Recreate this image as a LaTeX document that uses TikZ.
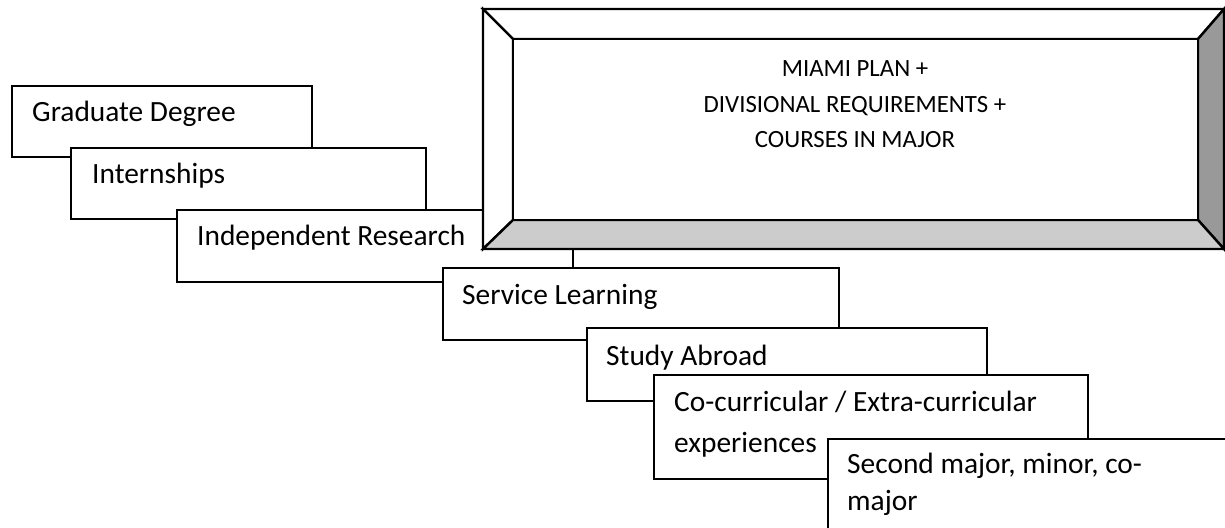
\documentclass[tikz,border=0pt]{standalone}
\usepackage{fontspec}
\setmainfont{Carlito}
\usetikzlibrary{fit}
\definecolor{bevlight}{HTML}{CCCCCC}
\definecolor{bevdark}{HTML}{999999}
\tikzset{
  box/.style={draw=black, fill=white, line width=1.2pt, inner sep=0pt},
  lbl/.style={inner sep=0pt, anchor=base west, font=\fontsize{14.7}{20.5}\selectfont},
  mlbl/.style={inner sep=0pt, anchor=base, font=\fontsize{12.4}{17.75}\selectfont},
  bev/.style={draw=black, line width=1.2pt, line join=miter},
}
\begin{document}
\begin{tikzpicture}[x=0.5pt,y=-0.5pt]
\useasboundingbox (0,0) rectangle (1225,527);
% Graduate Degree
\node[box, fit={(12,86) (312,157)}] (grad) {};
\node[lbl] (gradt) at ([shift={(21,37)}]grad.north west) {Graduate Degree};
% Internships
\node[box, fit={(71,148) (426,219)}] (intern) {};
\node[lbl] (internt) at ([shift={(22,37)}]intern.north west) {Internships};
% Independent Research
\node[box, fit={(177,210) (573,282)}] (indep) {};
\node[lbl] (indept) at ([shift={(21,37)}]indep.north west) {Independent Research};
% Main bevelled box
\coordinate (o1) at (483,9);
\coordinate (o2) at (1224,9);
\coordinate (o3) at (1224,249);
\coordinate (o4) at (483,249);
\coordinate (i1) at (513,39);
\coordinate (i2) at (1198,39);
\coordinate (i3) at (1198,220);
\coordinate (i4) at (513,220);
\fill[white] (o1) -- (o2) -- (o3) -- (o4) -- cycle;
\filldraw[bev, fill=white] (o1) -- (o2) -- (i2) -- (i1) -- cycle;
\filldraw[bev, fill=white] (o1) -- (i1) -- (i4) -- (o4) -- cycle;
\filldraw[bev, fill=bevdark] (o2) -- (o3) -- (i3) -- (i2) -- cycle;
\filldraw[bev, fill=bevlight] (o4) -- (i4) -- (i3) -- (o3) -- cycle;
\node[box, fit={(i1) (i3)}] (core) {};
\node[mlbl] (m1) at (855,76) {MIAMI PLAN +};
\node[mlbl] (m2) at (855,112) {DIVISIONAL REQUIREMENTS +};
\node[mlbl] (m3) at (855,147) {COURSES IN MAJOR};
% Service Learning
\node[box, fit={(443,268) (839,340)}] (serv) {};
\node[lbl] (servt) at ([shift={(20,38)}]serv.north west) {Service Learning};
% Study Abroad
\node[box, fit={(587,328) (987,401)}] (study) {};
\node[lbl] (studyt) at ([shift={(20,39)}]study.north west) {Study Abroad};
% Co-curricular
\node[box, fit={(654,375) (1088,479)}] (cocur) {};
\node[lbl] (cocurt1) at ([shift={(21,38)}]cocur.north west) {Co-curricular / Extra-curricular};
\node[lbl] (cocurt2) at ([shift={(21,79)}]cocur.north west) {experiences};
% Second major
\node[box, fit={(828,439) (1240,560)}] (second) {};
\node[lbl] (secondt1) at ([shift={(20,36)}]second.north west) {Second major, minor, co-};
\node[lbl] (secondt2) at ([shift={(20,73)}]second.north west) {major};
\end{tikzpicture}
\end{document}
